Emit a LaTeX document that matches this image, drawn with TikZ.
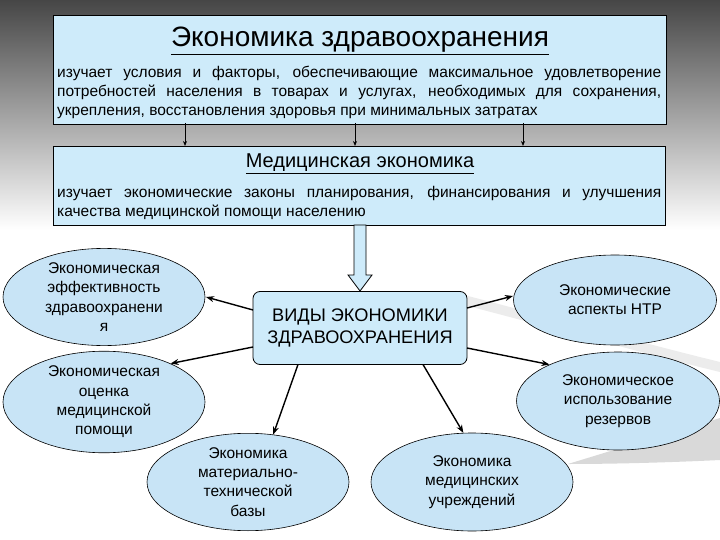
\documentclass[tikz,border=0pt]{standalone}
\usepackage{fontspec}
\setmainfont{Liberation Sans}
\usetikzlibrary{arrows.meta,shapes.geometric}
\definecolor{boxblue}{RGB}{206,235,250}
\definecolor{ellblue}{RGB}{200,228,246}
\tikzset{
  topbox/.style={draw=black, line width=0.8pt, fill=boxblue},
  ellnode/.style={ellipse, draw=black, line width=0.6pt, fill=ellblue, inner sep=0pt, align=center,
     font=\fontsize{15.5}{19.3}\selectfont},
  bodytext/.style={anchor=north west, text width=604pt, inner sep=0pt, align=justify, font=\fontsize{15.5}{19}\selectfont},
  arr/.style={-{Stealth[length=8pt,width=6pt]}, line width=1.4pt},
  thinarr/.style={-{Stealth[length=5pt,width=4pt]}, line width=0.8pt},
}
\begin{document}
\begin{tikzpicture}[x=1pt,y=-1pt]
\useasboundingbox (0,0) rectangle (720,540);
% background
\fill[white] (0,0) rectangle (720,540);
\shade[top color=gray!100!white!55!black, middle color=gray!45, bottom color=white, shading angle=0] (0,0) rectangle (720,230);
% decorative swooshes
\fill[gray!15] (468,296) .. controls (560,320) and (650,345) .. (720,362) -- (720,372) .. controls (650,355) and (560,330) .. (468,306) -- cycle;
\fill[gray!30] (568,464) .. controls (630,445) and (680,430) .. (720,418) -- (720,460) .. controls (680,462) and (620,464) .. (568,464) -- cycle;

% top box
\node[topbox, minimum width=613pt, minimum height=109pt, anchor=north west, inner sep=0pt] (top) at (53,15) {};
\node[font=\fontsize{28}{32}\selectfont, anchor=base] (toptitle) at (360,47) {\underline{Экономика здравоохранения}};
\node[bodytext] (toptext) at (57,65.5)
 {изучает условия и факторы, обеспечивающие максимальное удовлетворение\linebreak
  потребностей населения в товарах и услугах, необходимых для сохранения,\linebreak
  укрепления, восстановления здоровья при минимальных затратах};

% second box
\node[topbox, minimum width=612pt, minimum height=79pt, anchor=north west, inner sep=0pt] (med) at (53,146) {};
\node[font=\fontsize{20}{24}\selectfont, anchor=base] (medtitle) at (360,167.5) {\underline{Медицинская экономика}};
\node[bodytext] (medtext) at (57,186.5)
 {изучает экономические законы планирования, финансирования и улучшения\linebreak
  качества медицинской помощи населению};

% arrows between boxes
\coordinate (a1) at (185,123); \coordinate (b1) at (185,146);
\coordinate (a2) at (355,123); \coordinate (b2) at (355,146);
\coordinate (a3) at (523,123); \coordinate (b3) at (523,146);
\draw[thinarr] (a1) -- (b1);
\draw[thinarr] (a2) -- (b2);
\draw[thinarr] (a3) -- (b3);

% hollow block arrow
\draw[line width=0.8pt, fill=boxblue] (354,225) -- (366,225) -- (366,275) -- (372,275) -- (360,291) -- (348,275) -- (354,275) -- cycle;

% center box
\node[draw=black, line width=0.8pt, fill=boxblue, rounded corners=7pt, minimum width=214pt, minimum height=73pt,
      align=center, font=\fontsize{18.2}{22}\selectfont, inner sep=0pt] (center) at (360,328)
  {ВИДЫ ЭКОНОМИКИ\\ЗДРАВООХРАНЕНИЯ};

% ellipses
\node[ellnode, minimum width=202pt, minimum height=94pt] (e1) at (104,297)
  {Экономическая\\эффективность\\здравоохранени\\я};
\node[ellnode, minimum width=202pt, minimum height=100pt] (e2) at (104,402)
  {Экономическая\\оценка\\медицинской\\помощи};
\node[ellnode, minimum width=203pt, minimum height=90pt] (e3) at (615,300)
  {Экономические\\аспекты НТР};
\node[ellnode, minimum width=203pt, minimum height=98pt] (e4) at (618,401)
  {Экономическое\\использование\\резервов};
\node[ellnode, minimum width=202pt, minimum height=96pt] (e5) at (248,482)
  {Экономика\\материально-\\технической\\базы};
\node[ellnode, minimum width=202pt, minimum height=98pt] (e6) at (472,482)
  {Экономика\\медицинских\\учреждений};

% connectors
\coordinate (c1) at (253,310); \coordinate (d1) at (206,297);
\coordinate (c2) at (253,347);
\coordinate (c3) at (467,308); \coordinate (d3) at (513,296);
\coordinate (c4) at (467,348);
\coordinate (c5) at (298,364.5);
\coordinate (c6) at (423,364.5);
\draw[arr] (c1) -- (d1);
\draw[arr] (c2) -- (e2.30);
\draw[arr] (c3) -- (d3);
\draw[arr] (c4) -- (e4.152);
\draw[arr] (c5) -- (e5.62);
\draw[arr] (c6) -- (e6.100);
\end{tikzpicture}
\end{document}
